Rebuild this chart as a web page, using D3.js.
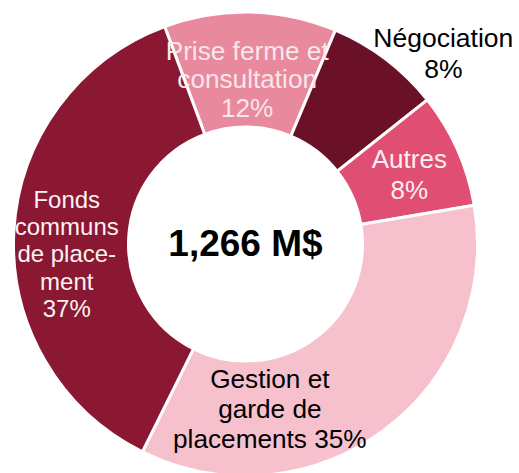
<!DOCTYPE html>
<html>
<head>
<meta charset="utf-8">
<script src="https://cdn.jsdelivr.net/npm/d3@7"></script>
<style>
  html, body { margin: 0; padding: 0; background: #fff; }
  svg { display: block; font-family: "Liberation Sans", Arial, sans-serif; }
</style>
</head>
<body>
<svg width="519" height="473"></svg>
<script>
// slices, clockwise from the Prise ferme slice
var categories = ["Prise ferme et consultation", "Négociation", "Autres", "Gestion et garde de placements", "Fonds communs de placement"];
var shares = [12, 8, 8, 35, 37];
// label lines, "{p}" is replaced by the share
var labelLines = [
  ["Prise ferme et", "consultation", "{p}"],
  ["Négociation", "{p}"],
  ["Autres", "{p}"],
  ["Gestion et", "garde de", "placements {p}"],
  ["Fonds", "communs", "de place-", "ment", "{p}"]
];
var total = "1,266 M$";

var colors = ["#e8899d", "#6a1128", "#e04f73", "#f6c1cd", "#8b1832"];
var textColors = ["#f8e6ea", "#000", "#fbeef1", "#000", "#fbf2f4"];
var fontSizes = [26.2, 26.5, 26, 26.2, 24];
var lineHeights = [28.5, 31, 31, 30, 27.3];
// label offsets from the ring centroid
var nudge = [[-2, 10], [92, -51], [4, 2], [-80, 24], [-4, 19]];

var svg = d3.select("svg"),
    cx = 245.5, cy = 244,
    outerRadius = 232,
    innerRadius = 117;

var pie = d3.pie()
  .sort(null)
  .startAngle(-20.4 * Math.PI / 180)
  .endAngle((360 - 20.4) * Math.PI / 180);

var arc = d3.arc()
  .innerRadius(innerRadius)
  .outerRadius(outerRadius);

var mid = d3.arc()
  .innerRadius(175)
  .outerRadius(175);

var arcs = pie(shares);

var g = svg.append("g")
  .attr("transform", "translate(" + cx + "," + cy + ")");

g.selectAll("path")
  .data(arcs)
  .enter().append("path")
  .attr("d", arc)
  .style("fill", function(d, i) { return colors[i]; })
  .style("stroke", "#fff")
  .style("stroke-width", 3)
  .style("stroke-linejoin", "miter");

var labels = g.selectAll(".label")
  .data(arcs)
  .enter().append("text")
  .attr("class", "label")
  .attr("text-anchor", "middle")
  .style("fill", function(d, i) { return textColors[i]; })
  .style("font-size", function(d, i) { return fontSizes[i] + "px"; });

labels.each(function(d, i) {
  var c = mid.centroid(d),
      x = c[0] + nudge[i][0],
      y = c[1] + nudge[i][1],
      lines = labelLines[i],
      lh = lineHeights[i],
      first = y - (lines.length - 1) * lh / 2 + fontSizes[i] * 0.35;
  d3.select(this).selectAll("tspan")
    .data(lines)
    .enter().append("tspan")
    .attr("x", x)
    .attr("y", function(t, j) { return first + j * lh; })
    .text(function(t) { return t.replace("{p}", shares[i] + "%"); });
});

g.append("text")
  .attr("text-anchor", "middle")
  .attr("y", 12)
  .style("font-size", "37px")
  .style("font-weight", "bold")
  .style("fill", "#000")
  .text(total);
</script>
</body>
</html>
